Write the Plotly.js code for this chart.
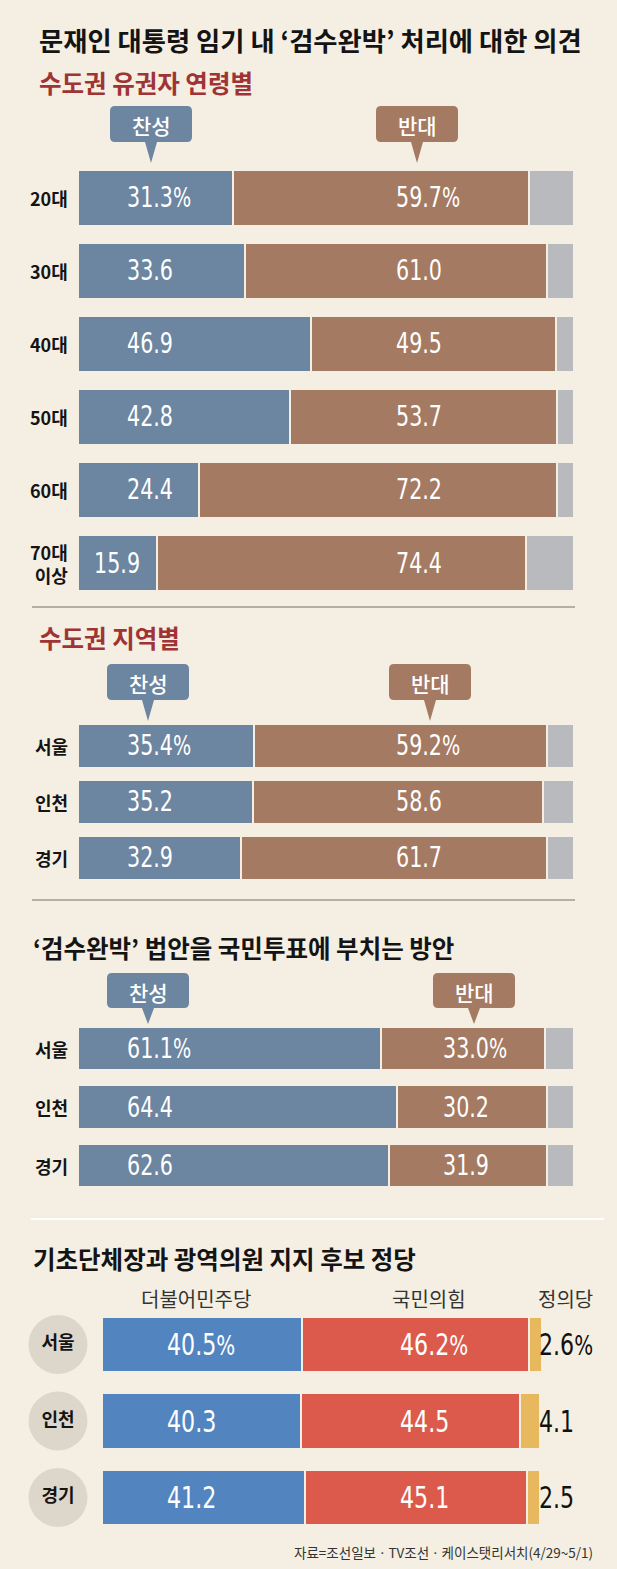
<!DOCTYPE html>
<html><head><meta charset="utf-8">
<script src="https://cdn.plot.ly/plotly-3.0.1.min.js"></script>
<style>html,body{margin:0;padding:0;background:#f4efe2;}#chart{width:617px;height:1569px;}</style>
</head><body><div id="chart"></div>
<script>
// ---------- DATA ----------
const mainTitle = '문재인 대통령 임기 내 ‘검수완박’ 처리에 대한 의견';
const sec1Title = '수도권 유권자 연령별';
const sec2Title = '수도권 지역별';
const sec3Title = '‘검수완박’ 법안을 국민투표에 부치는 방안';
const sec4Title = '기초단체장과 광역의원 지지 후보 정당';
const sourceText = '자료=조선일보ㆍTV조선ㆍ케이스탯리서치(4/29~5/1)';
const opinionNames = ['찬성', '반대'];

const ageCats = ['20대', '30대', '40대', '50대', '60대', '70대 이상'];
const ageFor = [31.3, 33.6, 46.9, 42.8, 24.4, 15.9];
const ageAgainst = [59.7, 61.0, 49.5, 53.7, 72.2, 74.4];
const ageOther = [9.0, 5.4, 3.6, 3.5, 3.4, 9.7];

const regionCats = ['서울', '인천', '경기'];
const regionFor = [35.4, 35.2, 32.9];
const regionAgainst = [59.2, 58.6, 61.7];
const regionOther = [5.4, 6.2, 5.4];

const refCats = ['서울', '인천', '경기'];
const refFor = [61.1, 64.4, 62.6];
const refAgainst = [33.0, 30.2, 31.9];
const refOther = [5.9, 5.4, 5.5];

const partyCats = ['서울', '인천', '경기'];
const partyNames = ['더불어민주당', '국민의힘', '정의당'];
const partyDem = [40.5, 40.3, 41.2];
const partyPpp = [46.2, 44.5, 45.1];
const partyJustice = [2.6, 4.1, 2.5];

// ---------- STYLE / GEOMETRY ----------
const W = 617, H = 1569;
const BG = '#f4efe2';
const KR = 'Noto Sans CJK KR';
const NUM = 'Liberation Sans Narrow, Arial Narrow, DejaVu Sans Condensed, sans-serif';
const NUM_SQUEEZE = 0.82;   // horizontal condensing of the number labels
const C_FOR = '#6c85a0', C_AGAINST = '#a57a62', C_OTHER = '#b9babe';
const C_DEM = '#5285bf', C_PPP = '#dc5a4c', C_JUS = '#e8b85e';
const PX = p => p / W;
const PY = p => 1 - p / H;

// section geometry: bar start px, px per %, row-band top/bottom px, bar thickness
const G = [
  {x0: 78, s: 4.96, top: 161, bottom: 599.6, w: 0.766},
  {x0: 78, s: 4.96, top: 718, bottom: 886, w: 0.795},
  {x0: 78, s: 4.96, top: 1019.25, bottom: 1194.75, w: 0.744},
  {x0: 102, s: 4.93, top: 1306.25, bottom: 1535.75, w: 0.725}
];
const dx = (k, px) => (px - G[k].x0) / G[k].s;

const traces = [];
const annotations = [];
const shapes = [];
const squeeze = {};   // annotation index -> anchor
const layout = {
  width: W, height: H, margin: {l: 0, r: 0, t: 0, b: 0},
  paper_bgcolor: BG, plot_bgcolor: 'rgba(0,0,0,0)',
  barmode: 'stack', showlegend: false,
  font: {family: KR, color: '#1a1a1a'},
  annotations: annotations, shapes: shapes
};

function axes(k, cats) {
  const sfx = k === 0 ? '' : String(k + 1);
  const g = G[k];
  layout['xaxis' + sfx] = {domain: [0, 1], range: [dx(k, 0), dx(k, W)], visible: false, fixedrange: true,
    anchor: 'y' + sfx};
  layout['yaxis' + sfx] = {domain: [PY(g.bottom), PY(g.top)], type: 'category', categoryarray: cats,
    range: [cats.length - 0.5, -0.5], visible: false, fixedrange: true, anchor: 'x' + sfx};
  return {xa: 'x' + sfx, ya: 'y' + sfx};
}

function barTrace(k, ax, cats, vals, color) {
  traces.push({type: 'bar', orientation: 'h', x: vals, y: cats, xaxis: ax.xa, yaxis: ax.ya,
    width: G[k].w, marker: {color: color, line: {color: BG, width: 2}}, hoverinfo: 'skip'});
}

function pctText(v, i, size) {
  return v.toFixed(1) + (i === 0 ? '<span style="font-size:' + size + 'px">%</span>' : '');
}

function numLabel(ax, x, y, anchor, text, size, color) {
  squeeze[annotations.length] = anchor;
  annotations.push({xref: ax.xa, yref: ax.ya, x: x, y: y, xanchor: anchor, yanchor: 'middle',
    text: text, showarrow: false, font: {family: NUM, size: size, color: color}});
}

function title(text, xpx, ypx, color, size) {
  annotations.push({xref: 'paper', yref: 'paper', x: PX(xpx), y: PY(ypx), xanchor: 'left', yanchor: 'middle',
    text: text, showarrow: false, font: {family: KR, size: size, color: color, weight: 700}});
}

function bubble(cx, top, bottom, tip, color, text) {
  const w = 82, r = 5, tw = 6;
  const l = cx - w / 2, rt = cx + w / 2;
  const p = (x, y) => PX(x) + ',' + PY(y);
  const path = 'M' + p(l + r, top) + ' L' + p(rt - r, top) + ' Q' + p(rt, top) + ' ' + p(rt, top + r) +
    ' L' + p(rt, bottom - r) + ' Q' + p(rt, bottom) + ' ' + p(rt - r, bottom) +
    ' L' + p(cx + tw, bottom) + ' L' + p(cx, tip) + ' L' + p(cx - tw, bottom) +
    ' L' + p(l + r, bottom) + ' Q' + p(l, bottom) + ' ' + p(l, bottom - r) +
    ' L' + p(l, top + r) + ' Q' + p(l, top) + ' ' + p(l + r, top) + ' Z';
  shapes.push({type: 'path', xref: 'paper', yref: 'paper', path: path, fillcolor: color, line: {width: 0}, layer: 'above'});
  annotations.push({xref: 'paper', yref: 'paper', x: PX(cx), y: PY((top + bottom) / 2 + 1), xanchor: 'center', yanchor: 'middle',
    text: text, showarrow: false, font: {family: KR, size: 21, color: '#ffffff', weight: 500}});
}

function opinionSection(k, cats, vFor, vAgainst, vOther, forPx, againstPx, labelSize) {
  const ax = axes(k, cats);
  barTrace(k, ax, cats, vFor, C_FOR);
  barTrace(k, ax, cats, vAgainst, C_AGAINST);
  barTrace(k, ax, cats, vOther, C_OTHER);
  cats.forEach((c, i) => {
    annotations.push({xref: ax.xa, yref: ax.ya, x: dx(k, 70), y: c, xanchor: 'right', yanchor: 'middle',
      text: c.replace(' ', '<br>'), showarrow: false, align: 'right',
      font: {family: KR, size: 18, color: '#141414', weight: 600}});
    const narrow = vFor[i] < 20;
    numLabel(ax, narrow ? vFor[i] / 2 : dx(k, forPx), c, narrow ? 'center' : 'left',
      pctText(vFor[i], i, 26), labelSize, '#ffffff');
    numLabel(ax, dx(k, againstPx), c, 'left', pctText(vAgainst[i], i, 26), labelSize, '#ffffff');
  });
}

// ---------- BUILD ----------
title(mainTitle, 37, 40, '#141414', 26.3);
title(sec1Title, 37, 83, '#a03434', 24.5);
bubble(151, 106, 142, 163, C_FOR, opinionNames[0]);
bubble(417, 106, 142, 163, C_AGAINST, opinionNames[1]);
opinionSection(0, ageCats, ageFor, ageAgainst, ageOther, 125, 394, 28);

shapes.push({type: 'line', xref: 'paper', yref: 'paper', x0: PX(32), x1: PX(575), y0: PY(607), y1: PY(607), line: {color: '#9e9a90', width: 1.5}});
title(sec2Title, 37, 638, '#a03434', 24.5);
bubble(148, 664, 700, 721, C_FOR, opinionNames[0]);
bubble(430, 664, 700, 721, C_AGAINST, opinionNames[1]);
opinionSection(1, regionCats, regionFor, regionAgainst, regionOther, 125, 394, 28);

shapes.push({type: 'line', xref: 'paper', yref: 'paper', x0: PX(32), x1: PX(575), y0: PY(900), y1: PY(900), line: {color: '#9e9a90', width: 1.5}});
title(sec3Title, 31, 948, '#141414', 24.5);
bubble(148, 973, 1008, 1024, C_FOR, opinionNames[0]);
bubble(474, 973, 1008, 1024, C_AGAINST, opinionNames[1]);
opinionSection(2, refCats, refFor, refAgainst, refOther, 125, 441, 28);

shapes.push({type: 'line', xref: 'paper', yref: 'paper', x0: PX(31), x1: PX(604), y0: PY(1219), y1: PY(1219), line: {color: '#ffffff', width: 2}});
title(sec4Title, 31, 1258, '#141414', 24.5);

// section 4
(function () {
  const k = 3;
  const ax = axes(k, partyCats);
  traces.push({type: 'scatter', mode: 'markers+text', x: partyCats.map(() => dx(k, 58)), y: partyCats,
    xaxis: ax.xa, yaxis: ax.ya, marker: {size: 59, color: '#ddd6cb', line: {width: 0}},
    text: partyCats, textposition: 'middle center', cliponaxis: false,
    textfont: {family: KR, size: 18, color: '#141414', weight: 600}, hoverinfo: 'skip'});
  barTrace(k, ax, partyCats, partyDem, C_DEM);
  barTrace(k, ax, partyCats, partyPpp, C_PPP);
  barTrace(k, ax, partyCats, partyJustice, C_JUS);
  const nameX = [196, 429, 565];
  partyNames.forEach((n, j) => {
    annotations.push({xref: ax.xa, yref: 'paper', x: dx(k, nameX[j]), y: PY(1298), xanchor: 'center', yanchor: 'middle',
      text: n, showarrow: false, font: {family: KR, size: 20, color: '#333333'}});
  });
  partyCats.forEach((c, i) => {
    numLabel(ax, dx(k, 165), c, 'left', pctText(partyDem[i], i, 27), 30, '#ffffff');
    numLabel(ax, dx(k, 398), c, 'left', pctText(partyPpp[i], i, 27), 30, '#ffffff');
    numLabel(ax, dx(k, 537), c, 'left', pctText(partyJustice[i], i, 27), 30, '#111111');
  });
})();

annotations.push({xref: 'paper', yref: 'paper', x: PX(595), y: PY(1552), xanchor: 'right', yanchor: 'middle',
  text: sourceText, showarrow: false, font: {family: KR, size: 13.5, color: '#333333'}});

function condenseNumbers(gd) {
  gd.querySelectorAll('g.annotation').forEach(g => {
    const idx = +g.getAttribute('data-index');
    const anchor = squeeze[idx];
    if (!anchor) return;
    const t = g.querySelector('text.annotation-text');
    if (!t) return;
    const bb = t.getBBox();
    const ax = anchor === 'left' ? bb.x : bb.x + bb.width / 2;
    const prev = t.getAttribute('transform') || '';
    t.setAttribute('transform', prev + ' translate(' + ax + ',0) scale(' + NUM_SQUEEZE + ',1) translate(' + (-ax) + ',0)');
  });
}

const gd = document.getElementById('chart');
Plotly.newPlot(gd, traces, layout, {displayModeBar: false, staticPlot: true}).then(() => condenseNumbers(gd));
</script></body></html>
